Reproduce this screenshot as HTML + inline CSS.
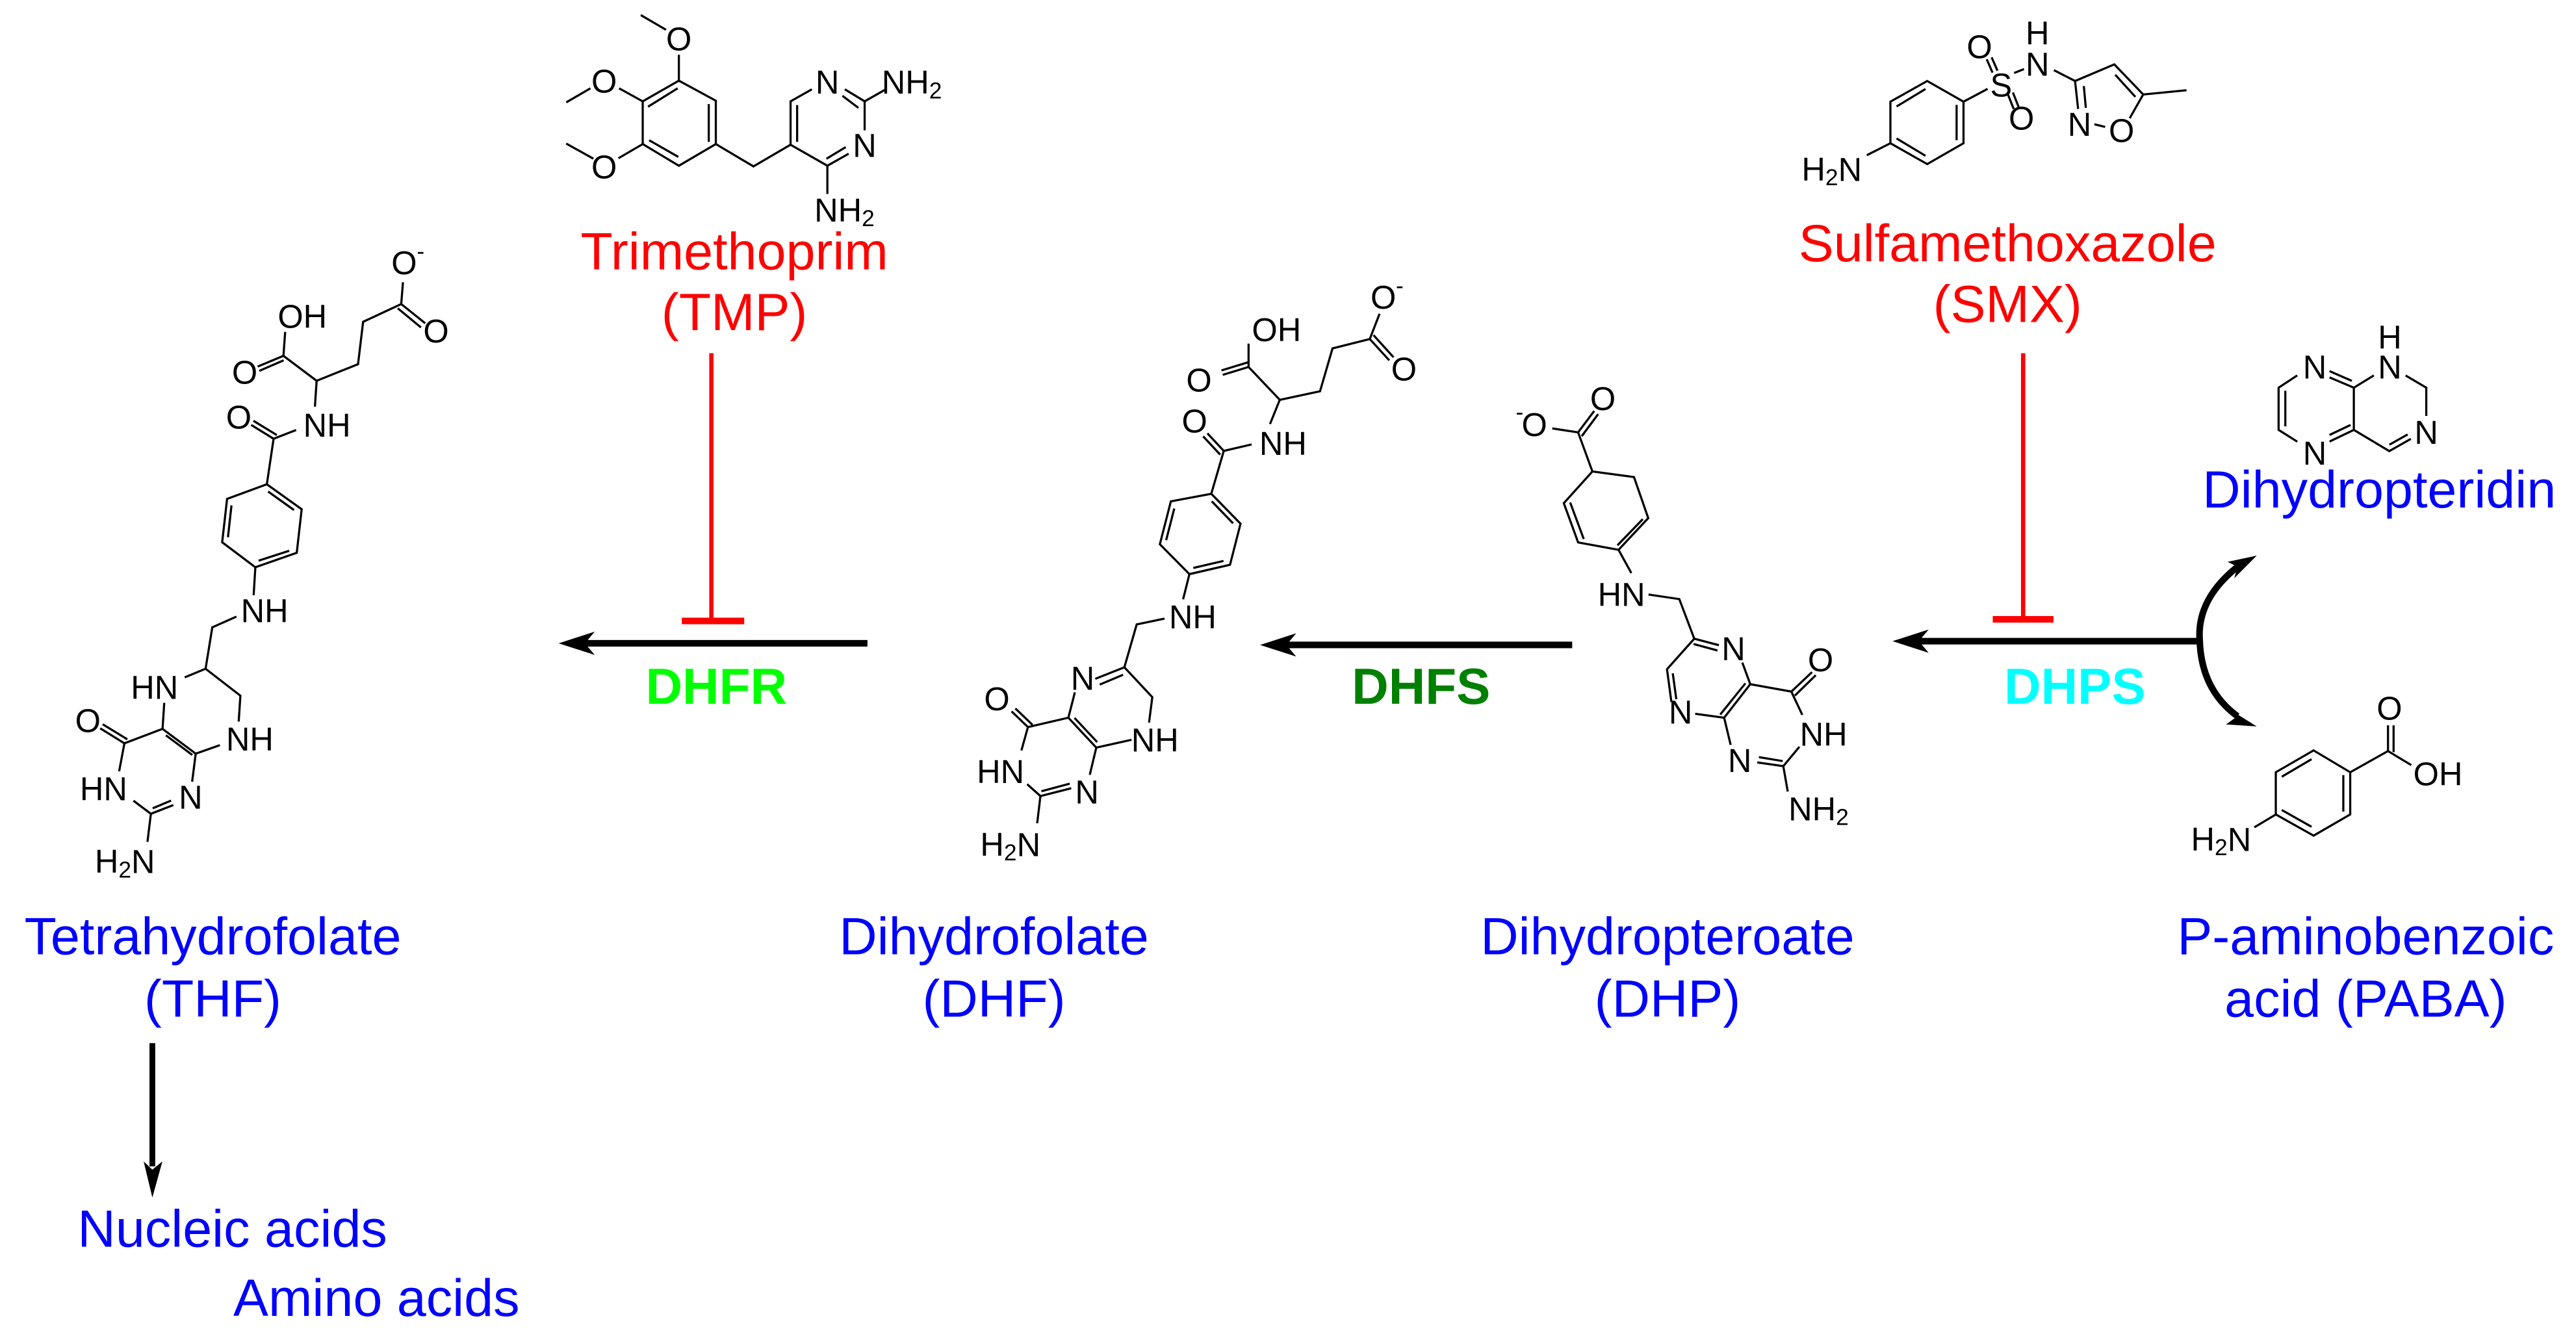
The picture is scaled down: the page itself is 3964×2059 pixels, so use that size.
<!DOCTYPE html>
<html><head><meta charset="utf-8"><style>
html,body{margin:0;padding:0;background:#fff}
svg{display:block}
.b{stroke:#000;stroke-width:1.3;fill:none;stroke-linecap:square}
.a{font-family:"Liberation Sans",sans-serif;font-size:20px;text-anchor:middle;dominant-baseline:central;fill:#000}
.s{font-size:14px}
.L{font-family:"Liberation Sans",sans-serif;font-size:32px;text-anchor:middle;fill:#0000ff}
.R{font-family:"Liberation Sans",sans-serif;font-size:32px;text-anchor:middle;fill:#ff0000}
.E{font-family:"Liberation Sans",sans-serif;font-size:31px;font-weight:bold;text-anchor:middle}
</style></head><body>
<svg width="3964" height="2059" viewBox="0 0 1568 814.5" xmlns="http://www.w3.org/2000/svg">
<rect width="1568" height="814.5" fill="#fff"/>

<!-- ===== THF ===== -->
<g class="b">
<polyline points="245.2,172.5 244.2,185.1 221,195.9 217.9,221.7 192.7,231.8 172.5,216.6 173.5,202.7"/>
<line x1="244.2" y1="185.1" x2="258.3" y2="196.4"/><line x1="242.6" y1="188.1" x2="255.7" y2="198.9"/>
<line x1="172.5" y1="216.6" x2="157.4" y2="222.9"/><line x1="172" y1="219.6" x2="158.4" y2="225.5"/>
<line x1="192.7" y1="231.8" x2="191.7" y2="246.9"/>
<polyline points="179.6,262 166.5,267.1 162.4,294.8"/>
<line x1="166.5" y1="267.1" x2="153.4" y2="259"/><line x1="167.9" y1="264.5" x2="154.8" y2="256.5"/>
<polygon points="162.4,294.8 183.6,310 180.6,336.5 155.4,345.3 135.2,330.1 138.2,303.7"/>
<line x1="163.7" y1="299.6" x2="178.4" y2="310.1"/><line x1="138.8" y1="326.4" x2="140.8" y2="308.3"/><line x1="158" y1="341.1" x2="175.4" y2="335.5"/>
<line x1="155.4" y1="345.3" x2="154.4" y2="361.7"/>
<polyline points="143.3,375.6 129.2,381.9 125.1,407.1 113,412.1"/>
<polyline points="125.1,407.1 146.3,423.5 145.3,438.6"/>
<polyline points="133.2,453.8 119.1,458.8 98.9,443.7 99.9,428.5"/>
<line x1="101.5" y1="448" x2="116.5" y2="459.2"/>
<polyline points="98.9,443.7 75.7,452.5 72.6,468.9"/>
<line x1="75.7" y1="452.5" x2="61.5" y2="443.7"/><line x1="76.9" y1="449.7" x2="63" y2="441.2"/>
<polyline points="81.7,487.8 91.8,495.4 104.9,490.3"/><line x1="93.5" y1="491.8" x2="103.5" y2="487.6"/>
<line x1="117" y1="475.2" x2="119.1" y2="458.8"/>
<line x1="91.8" y1="495.4" x2="89.8" y2="511.8"/>
</g>
<text class="a" x="246" y="160">O</text><text class="a s" x="256" y="153">-</text>
<text class="a" x="265.4" y="201.5">O</text>
<text class="a" x="184" y="192.6">OH</text>
<text class="a" x="148.9" y="226.7">O</text>
<text class="a" x="199" y="259">NH</text>
<text class="a" x="145.3" y="254">O</text>
<text class="a" x="161" y="371.8">NH</text>
<text class="a" x="94" y="418.5">HN</text>
<text class="a" x="152" y="450">NH</text>
<text class="a" x="53.5" y="438.6">O</text>
<text class="a" x="63" y="480.3">HN</text>
<text class="a" x="116" y="485.3">N</text>
<text class="a" x="76" y="524.4">H<tspan class="s" dy="5">2</tspan><tspan dy="-5">N</tspan></text>

<!-- ===== DHF ===== -->
<g class="b">
<polyline points="839.5,191.6 833.8,206.4 811.1,212.1 803.5,238.2 779,243.4 760,223.4 760,209.8"/>
<line x1="833.8" y1="206.4" x2="845.2" y2="218.9"/><line x1="836.5" y1="204.5" x2="847.8" y2="217"/>
<line x1="760" y1="223.4" x2="744.9" y2="228"/><line x1="759.2" y1="220.7" x2="744.1" y2="225.3"/>
<line x1="779" y1="243.4" x2="773.3" y2="257.5"/>
<polyline points="761.2,270.7 744.9,274.5 737.3,300.6"/>
<line x1="744.9" y1="274.5" x2="735.4" y2="264.3"/><line x1="742.3" y1="276.3" x2="732.8" y2="266.1"/>
<polygon points="737.3,300.6 755.1,318.8 748.7,343.8 724,349.5 706,331.3 712.7,305.2"/>
<line x1="714.6" y1="310.2" x2="710" y2="328.2"/><line x1="738" y1="305.6" x2="750.1" y2="318.1"/><line x1="727" y1="345.6" x2="744.1" y2="341.6"/>
<line x1="724" y1="349.5" x2="720.3" y2="364.2"/>
<polyline points="708.2,376.7 691.9,380.1 684.4,406.2 667.3,413"/>
<line x1="670" y1="416.5" x2="683" y2="411"/>
<polyline points="684.4,406.2 701.4,424.4 699.5,439.2"/>
<polyline points="688.1,450.5 667.3,455.1 650.3,436.9 654.1,422.1"/>
<line x1="654.5" y1="437.5" x2="667.4" y2="451.3"/>
<polyline points="650.3,436.9 625.7,442.6 621.9,456.2"/>
<line x1="625.7" y1="442.6" x2="616.2" y2="433.5"/><line x1="628" y1="440.8" x2="618.5" y2="431.7"/>
<polyline points="625.7,477.8 633.3,484.6 651.4,480"/><line x1="634.5" y1="481.5" x2="650.5" y2="477.2"/>
<line x1="663.5" y1="471" x2="667.3" y2="455.1"/>
<line x1="633.3" y1="484.6" x2="631.4" y2="500.5"/>
</g>
<text class="a" x="842" y="181">O</text><text class="a s" x="852" y="174">-</text>
<text class="a" x="854.6" y="224.6">O</text>
<text class="a" x="777" y="200.7">OH</text>
<text class="a" x="729.8" y="231.4">O</text>
<text class="a" x="781" y="270">NH</text>
<text class="a" x="727.1" y="256.3">O</text>
<text class="a" x="726" y="375.6">NH</text>
<text class="a" x="659" y="413">N</text>
<text class="a" x="703" y="450.5">NH</text>
<text class="a" x="606.8" y="425.5">O</text>
<text class="a" x="609" y="469.8">HN</text>
<text class="a" x="661.6" y="482.3">N</text>
<text class="a" x="615" y="514.1">H<tspan class="s" dy="5">2</tspan><tspan dy="-5">N</tspan></text>

<!-- ===== DHP ===== -->
<g class="b">
<polyline points="945.5,260.9 960.6,263.2 969.3,287"/>
<line x1="960.6" y1="263.2" x2="970" y2="250.7"/><line x1="963.2" y1="265" x2="972.4" y2="252.6"/>
<polygon points="969.3,287 994.6,290.4 1003.3,315.4 985.2,334.7 960.6,330.2 951.9,306.3"/>
<line x1="999.5" y1="316.5" x2="985" y2="331.5"/><line x1="963.8" y1="327.5" x2="956" y2="306.5"/>
<line x1="985.2" y1="334.7" x2="992.7" y2="348.3"/>
<polyline points="1004.1,362 1022.2,364.7 1031.3,388.8 1045.7,392.6"/>
<line x1="1031.5" y1="392.2" x2="1044.8" y2="395.8"/>
<polyline points="1031.3,388.8 1014.7,407.4 1017.3,426.7"/>
<line x1="1018.3" y1="410.5" x2="1020.3" y2="425"/>
<polyline points="1032.5,434.6 1049.5,436.9 1065.4,416.5 1060.8,404"/>
<line x1="1062" y1="416.5" x2="1047.5" y2="434.5"/>
<polyline points="1065.4,416.5 1090.4,421 1096.8,434.6"/>
<line x1="1090.4" y1="421" x2="1102.5" y2="409.6"/><line x1="1093" y1="423" x2="1104.8" y2="411.5"/>
<polyline points="1094.9,455.1 1085.5,466.4 1070.3,464.2"/><line x1="1084.5" y1="463.2" x2="1071.3" y2="461"/>
<line x1="1053.3" y1="452.8" x2="1049.5" y2="436.9"/>
<line x1="1085.5" y1="466.4" x2="1088.1" y2="481.2"/>
</g>
<text class="a" x="975.7" y="242.7">O</text>
<text class="a" x="934" y="258.6">O</text><text class="a s" x="925" y="251">-</text>
<text class="a" x="987" y="362">HN</text>
<text class="a" x="1055.2" y="394.9">N</text>
<text class="a" x="1023" y="433.5">N</text>
<text class="a" x="1108.2" y="401.7">O</text>
<text class="a" x="1110" y="447.1">NH</text>
<text class="a" x="1059" y="463">N</text>
<text class="a" x="1107" y="492.5">NH<tspan class="s" dy="5">2</tspan></text>

<!-- ===== TMP ===== -->
<g class="b">
<line x1="390.6" y1="9.5" x2="404.8" y2="17.8"/>
<line x1="413.2" y1="34" x2="413.2" y2="49.1"/>
<polygon points="413.2,49.1 435.7,61.3 435.7,87.7 413.2,100.9 391.2,87.7 391.2,61.7"/>
<line x1="395" y1="64.6" x2="411.9" y2="54.1"/><line x1="431.4" y1="64" x2="431.4" y2="85.7"/><line x1="395.7" y1="85.7" x2="412.3" y2="95.2"/>
<line x1="391.2" y1="61.7" x2="377.4" y2="54.1"/><polyline points="358.8,54.1 345.2,62"/>
<line x1="391.2" y1="87.7" x2="377" y2="96"/><line x1="360.6" y1="96.3" x2="345.2" y2="87.7"/>
<polyline points="435.7,87.7 458.6,101.3 481.2,88.1 481.2,61.7 493.6,54.7"/>
<line x1="485.2" y1="64.6" x2="485.2" y2="85.7"/>
<polyline points="514.8,54.7 526.3,61.7 526.3,78.7"/><line x1="513.3" y1="58.7" x2="522" y2="65.3"/>
<line x1="526.3" y1="61.7" x2="538.6" y2="54.7"/>
<polyline points="516,93.9 503.6,100.9 481.2,88.1"/><line x1="514.2" y1="89.9" x2="503.6" y2="96.3"/>
<line x1="503.6" y1="100.9" x2="503.6" y2="117.4"/>
</g>
<text class="a" x="413.2" y="23.7">O</text>
<text class="a" x="367.7" y="49.5">O</text>
<text class="a" x="367.7" y="101.6">O</text>
<text class="a" x="503.6" y="50.1">N</text>
<text class="a" x="526.3" y="88.6">N</text>
<text class="a" x="555" y="50.1">NH<tspan class="s" dy="5">2</tspan></text>
<text class="a" x="514" y="128">NH<tspan class="s" dy="5">2</tspan></text>
<text class="R" x="447" y="164">Trimethoprim</text>
<text class="R" x="447" y="201">(TMP)</text>

<!-- ===== SMX ===== -->
<g class="b">
<polygon points="1173.1,49.3 1195.2,61.9 1195.2,87.2 1173.1,99.9 1150.7,87.2 1150.7,61.9"/>
<line x1="1155" y1="64.5" x2="1171.5" y2="54.5"/><line x1="1191" y1="64.5" x2="1191" y2="84.7"/><line x1="1155" y1="84.6" x2="1171.5" y2="94.5"/>
<line x1="1150.7" y1="87.2" x2="1136.9" y2="94.2"/>
<line x1="1195.2" y1="61.9" x2="1209.3" y2="54.4"/>
<line x1="1209.6" y1="36.7" x2="1212.6" y2="43.6"/><line x1="1212.6" y1="35.5" x2="1215.6" y2="42.4"/>
<line x1="1222.5" y1="58.1" x2="1225.5" y2="65.7"/><line x1="1225.5" y1="56.9" x2="1228.5" y2="64.5"/>
<line x1="1226.6" y1="44.2" x2="1231.4" y2="42.3"/>
<polyline points="1250.8,43 1263.1,49.3 1287,39.2 1304.6,57.5 1330.3,55"/>
<line x1="1288" y1="46" x2="1299.4" y2="58.5"/>
<line x1="1263.1" y1="49.3" x2="1264.9" y2="65.7"/><line x1="1268.5" y1="53" x2="1269.6" y2="65"/>
<line x1="1275.5" y1="75.8" x2="1280.8" y2="77.1"/>
<line x1="1304.6" y1="57.5" x2="1296.7" y2="71.4"/>
</g>
<text class="a" x="1218.1" y="51.8">S</text>
<text class="a" x="1204.9" y="28.4">O</text>
<text class="a" x="1230.5" y="72">O</text>
<text class="a" x="1240.2" y="39.2">N</text>
<text class="a" x="1240.2" y="20.2">H</text>
<text class="a" x="1265.8" y="75.8">N</text>
<text class="a" x="1291.4" y="79.6">O</text>
<text class="a" x="1115" y="103">H<tspan class="s" dy="5">2</tspan><tspan dy="-5">N</tspan></text>
<text class="R" x="1222" y="159">Sulfamethoxazole</text>
<text class="R" x="1222" y="196">(SMX)</text>

<!-- ===== Pteridine ===== -->
<g class="b">
<polyline points="1397.8,228.9 1387,236 1387,261.7 1397.8,268.5"/>
<line x1="1391.1" y1="238.5" x2="1391.1" y2="258.9"/>
<line x1="1418.6" y1="230" x2="1432.8" y2="236"/><line x1="1418.6" y1="226.2" x2="1431" y2="231.6"/>
<line x1="1418.6" y1="268.5" x2="1432.8" y2="261.7"/><line x1="1418.6" y1="264.5" x2="1430.2" y2="259"/>
<line x1="1432.8" y1="236" x2="1432.8" y2="261.7"/>
<line x1="1432.8" y1="236" x2="1444.4" y2="228.9"/>
<polyline points="1464.9,228.9 1476.9,236 1476.9,252.5"/>
<polyline points="1432.8,261.7 1454.4,274.6 1466.9,267.5"/><line x1="1455" y1="270.4" x2="1465" y2="264.8"/>
</g>
<text class="a" x="1409" y="223.5">N</text>
<text class="a" x="1409" y="276">N</text>
<text class="a" x="1454.7" y="223.5">N</text>
<text class="a" x="1454.7" y="205.3">H</text>
<text class="a" x="1476.9" y="263.2">N</text>
<text class="L" x="1340.7" y="309" style="text-anchor:start">Dihydropteridin</text>

<!-- ===== PABA ===== -->
<g class="b">
<polygon points="1385.3,470.1 1408.3,456.8 1430.6,470.1 1430.6,495.8 1408.3,508.7 1385.3,495.8"/>
<line x1="1389.5" y1="472.5" x2="1406.5" y2="462.5"/><line x1="1426.4" y1="472.5" x2="1426.4" y2="493.4"/><line x1="1389.5" y1="493.4" x2="1406.5" y2="503"/>
<line x1="1430.6" y1="470.1" x2="1453.6" y2="457.2"/>
<line x1="1453.6" y1="457.2" x2="1453.6" y2="442.2"/><line x1="1457" y1="457.2" x2="1457" y2="442.2"/>
<line x1="1453.6" y1="457.2" x2="1467.2" y2="465.4"/>
<line x1="1385.3" y1="495.8" x2="1372.8" y2="503.3"/>
</g>
<text class="a" x="1454.5" y="431.1">O</text>
<text class="a" x="1484" y="471.2">OH</text>
<text class="a" x="1352" y="510.8">H<tspan class="s" dy="5">2</tspan><tspan dy="-5">N</tspan></text>

<!-- ===== Arrows ===== -->
<line x1="528" y1="391.6" x2="352" y2="391.6" stroke="#000" stroke-width="4"/>
<polygon points="340,391.6 362,384.5 356,391.6 362,398.7" fill="#000"/>
<line x1="957" y1="392.6" x2="779" y2="392.6" stroke="#000" stroke-width="4"/>
<polygon points="767,392.6 789,385.5 783,392.6 789,399.7" fill="#000"/>
<line x1="1340" y1="390.3" x2="1164" y2="390.3" stroke="#000" stroke-width="4"/>
<polygon points="1152,390.3 1174,383.2 1168,390.3 1174,397.4" fill="#000"/>
<path d="M1362,345 Q1337,365 1339,390 Q1340,420 1362,436" stroke="#000" stroke-width="4" fill="none"/>
<polygon points="1373.7,338.2 1356,342 1362,345 1360,352" fill="#000"/>
<polygon points="1373.7,442.2 1359,433 1362,436 1355,441" fill="#000"/>
<line x1="92.7" y1="635" x2="92.7" y2="710" stroke="#000" stroke-width="3.5"/>
<polygon points="92.7,729 87.4,707 92.7,712 98.8,707" fill="#000"/>

<!-- inhibition -->
<line x1="433" y1="215" x2="433" y2="378" stroke="#ff0000" stroke-width="2.6"/>
<line x1="415" y1="378" x2="453" y2="378" stroke="#ff0000" stroke-width="4"/>
<line x1="1231.5" y1="215" x2="1231.5" y2="377" stroke="#ff0000" stroke-width="2.6"/>
<line x1="1213" y1="377" x2="1250" y2="377" stroke="#ff0000" stroke-width="4"/>

<!-- enzyme labels -->
<text class="E" x="436" y="428.5" fill="#00ff00">DHFR</text>
<text class="E" x="865" y="428.5" fill="#008000">DHFS</text>
<text class="E" x="1263" y="428.5" fill="#00ffff">DHPS</text>

<!-- names -->
<text class="L" x="129.5" y="581">Tetrahydrofolate</text>
<text class="L" x="129.5" y="618.8">(THF)</text>
<text class="L" x="605" y="581">Dihydrofolate</text>
<text class="L" x="605" y="618.8">(DHF)</text>
<text class="L" x="1015" y="581">Dihydropteroate</text>
<text class="L" x="1015" y="618.8">(DHP)</text>
<text class="L" x="1440" y="581">P-aminobenzoic</text>
<text class="L" x="1440" y="618.8">acid (PABA)</text>
<text class="L" x="47.2" y="759" style="text-anchor:start">Nucleic acids</text>
<text class="L" x="142" y="801" style="text-anchor:start">Amino acids</text>
</svg>
</body></html>
